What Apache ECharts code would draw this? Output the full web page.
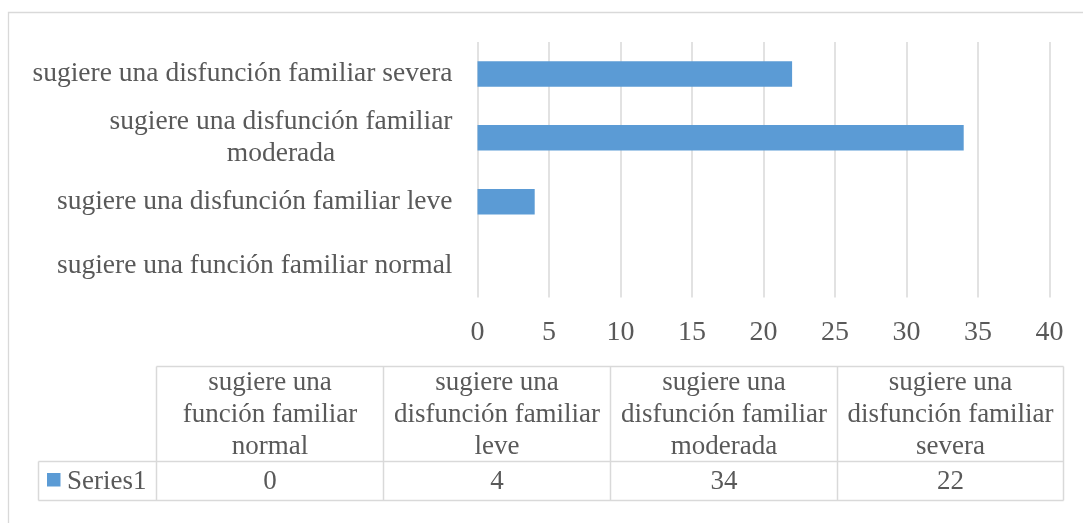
<!DOCTYPE html>
<html><head><meta charset="utf-8">
<script src="https://cdn.jsdelivr.net/npm/echarts@6/dist/echarts.min.js"></script>
<style>html,body{margin:0;padding:0;background:#fff}#c{width:1083px;height:523px}</style>
</head><body><div id="c"></div>
<script>
// ---- data ----
const categories = [
  'sugiere una función familiar normal',
  'sugiere una disfunción familiar leve',
  'sugiere una disfunción familiar moderada',
  'sugiere una disfunción familiar severa'
];
const seriesName = 'Series1';
const values = [0, 4, 34, 22];
const axisMin = 0, axisMax = 40, axisInterval = 5;

// ---- style ----
const FONT = 'Liberation Serif';
const TXT = '#595959';
const LINE = '#d9d9d9';
const BAR = '#5b9bd5';

function wrapAxis(s) {
  if (s.length > 38) {
    const i = s.lastIndexOf(' ');
    return '{c|' + s.slice(0, i) + '}\n{c|' + s.slice(i + 1) + '}';
  }
  return '{c|' + s + '}';
}
function wrapHeader(s) {
  const w = s.split(' ');
  return [w.slice(0, 2).join(' '), w.slice(2, 4).join(' '), w.slice(4).join(' ')].join('\n');
}

// ---- table layout ----
const colX = [156.5, 383.5, 610.5, 837.5, 1063.5];
const rowY = [366.5, 461.5, 500.5];
const keyLeft = 38.5;
const TFONT = '27px "' + FONT + '"';
const graphic = [];
graphic.push({type:'rect', shape:{x:8.5, y:12.5, width:1200, height:700}, style:{fill:'none', stroke:LINE, lineWidth:1.3}, silent:true, z:-1});
function hl(x1, x2, y) { graphic.push({type:'line', shape:{x1, y1:y, x2, y2:y}, style:{stroke:LINE, lineWidth:1.5}, silent:true}); }
function vl(x, y1, y2) { graphic.push({type:'line', shape:{x1:x, y1, x2:x, y2}, style:{stroke:LINE, lineWidth:1.5}, silent:true}); }
hl(colX[0], colX[4], rowY[0]);
hl(keyLeft, colX[4], rowY[1]);
hl(keyLeft, colX[4], rowY[2]);
colX.forEach(x => vl(x, rowY[0], rowY[2]));
vl(keyLeft, rowY[1], rowY[2]);
categories.forEach((c, i) => {
  const cx = (colX[i] + colX[i + 1]) / 2;
  graphic.push({type:'text', x:cx, y:(rowY[0] + rowY[1]) / 2 + 1, silent:true,
    style:{text:wrapHeader(c), align:'center', verticalAlign:'middle', font:TFONT, lineHeight:32, fill:TXT}});
  graphic.push({type:'text', x:cx, y:(rowY[1] + rowY[2]) / 2 + 1, silent:true,
    style:{text:String(values[i]), align:'center', verticalAlign:'middle', font:TFONT, fill:TXT}});
});
graphic.push({type:'rect', shape:{x:47, y:473, width:13.5, height:13.5}, style:{fill:BAR}, silent:true});
graphic.push({type:'text', x:67, y:(rowY[1] + rowY[2]) / 2 + 1, silent:true,
  style:{text:seriesName, align:'left', verticalAlign:'middle', font:TFONT, fill:TXT}});

const chart = echarts.init(document.getElementById('c'), null, {renderer:'canvas'});
chart.setOption({
  animation:false,
  backgroundColor:'#fff',
  grid:{left:477.5, right:33.5, top:42, bottom:225.5, containLabel:false},
  xAxis:{
    type:'value', min:axisMin, max:axisMax, interval:axisInterval,
    axisLine:{show:false}, axisTick:{show:false},
    splitLine:{show:true, lineStyle:{color:LINE, width:1.5}},
    axisLabel:{color:TXT, fontFamily:FONT, fontSize:28, margin:21}
  },
  yAxis:{
    type:'category', data:categories,
    axisLine:{show:false}, axisTick:{show:false},
    axisLabel:{margin:25, align:'right', formatter:wrapAxis,
      rich:{c:{align:'center', fontFamily:FONT, fontSize:27.5, lineHeight:32, color:TXT}}}
  },
  series:[{
    name:seriesName, type:'bar', data:values, barCategoryGap:'60%',
    itemStyle:{color:BAR}
  }],
  graphic:graphic
});
</script>
</body></html>
